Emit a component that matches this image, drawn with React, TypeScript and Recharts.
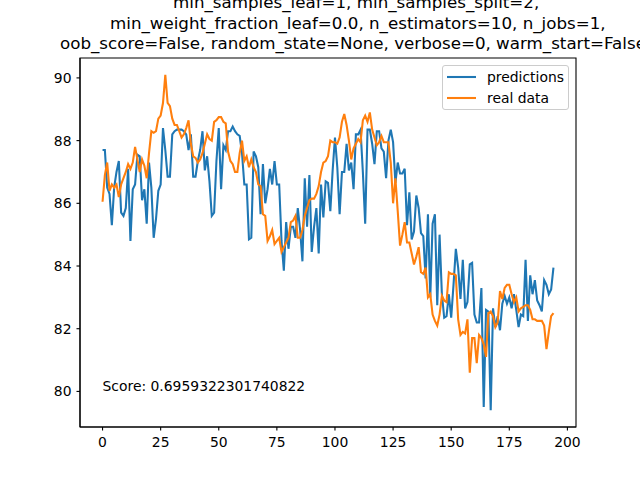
import { Legend, Line, LineChart, ReferenceArea, ReferenceDot, XAxis, YAxis } from "recharts";

document.body.style.margin = "0";

const BLUE = "#1f77b4";
const ORANGE = "#ff7f0e";
const FONT = "'DejaVu Sans', sans-serif";
const FONT_SIZE = 13.9; // 10pt at 100 dpi
const TITLE_SIZE = 16.7; // 12pt at 100 dpi

// Values, one per sample index 0..194.
const predictions = [
  87.7, 87.7, 86.5, 86.3, 85.3, 86.5, 87.0, 87.35, 85.7, 85.6,
  85.85, 87.1, 84.8, 86.45, 86.6, 87.55, 87.5, 86.1, 86.45, 85.35,
  87.3, 86.5, 84.9, 85.5, 86.4, 86.6, 88.4, 87.7, 86.85, 86.85,
  88.2, 88.3, 88.35, 88.35, 88.35, 88.3, 88.2, 87.7, 88.2, 86.85,
  86.85, 87.35, 87.7, 88.3, 87.05, 87.5, 86.7, 85.6, 85.7, 87.35,
  88.4, 86.45, 87.85, 87.7, 88.3, 88.3, 88.45, 88.3, 88.2, 88.15,
  87.6, 86.6, 86.6, 84.85, 84.9, 87.65, 87.5, 87.15, 85.65, 87.25,
  86.0, 86.45, 87.1, 86.6, 87.35, 86.6, 86.6, 84.8, 83.85, 85.4,
  84.55, 85.25, 85.25, 84.9, 85.85, 85.15, 84.15, 86.8, 85.25, 86.9,
  84.45, 85.25, 85.85, 84.4, 86.6, 85.55, 86.7, 86.65, 85.75, 87.05,
  88.1, 87.15, 85.65, 87.0, 87.0, 87.9, 87.05, 87.3, 86.45, 88.2,
  88.2, 88.35, 87.0, 85.35, 88.35, 88.35, 87.9, 87.25, 88.3, 88.3,
  87.75, 87.65, 86.8, 88.0, 88.35, 87.95, 86.65, 87.3, 86.95, 86.95,
  87.1, 85.3, 86.35, 84.85, 85.1, 86.25, 85.85, 85.05, 84.95, 83.6,
  85.65, 83.0, 85.35, 85.65, 82.75, 85.0, 83.1, 82.35, 82.4, 83.1,
  82.35, 83.4, 84.55, 83.95, 82.95, 84.2, 82.65, 82.85, 84.05, 84.1,
  82.45, 82.2, 82.2, 83.3, 79.5, 82.6, 82.55, 79.4, 82.65, 82.05,
  82.4, 81.95, 82.8, 83.05, 82.8, 83.0, 82.65, 83.1, 82.6, 82.05,
  82.45, 82.4, 84.2, 82.25, 83.7, 83.1, 83.55, 82.9, 82.75, 82.55,
  83.55, 83.4, 83.1, 83.25, 83.95,
];

const realData = [
  86.05, 86.9, 87.3, 86.4, 86.6, 86.5, 86.6, 86.2, 86.6, 86.8,
  87.0, 87.25, 87.1, 87.3, 87.8, 87.4, 87.0, 87.4, 87.2, 86.8,
  87.6, 88.3, 88.25, 88.3, 88.7, 88.8, 89.2, 90.1, 89.2, 89.1,
  88.7, 88.5, 88.5, 88.3, 88.1, 88.2, 88.4, 88.65, 87.9, 87.5,
  87.45, 87.3, 87.4, 87.6, 87.9, 88.2, 88.05, 88.0, 88.6, 88.65,
  88.75, 88.75, 88.6, 88.55, 87.65, 87.35, 87.25, 87.0, 87.0, 87.6,
  88.0, 87.35, 87.5, 87.15, 87.4, 87.15, 87.0, 86.6, 86.55, 85.65,
  85.6, 84.8, 84.95, 85.15, 84.7, 84.8, 84.9, 84.45, 84.6, 84.75,
  84.9, 85.4, 85.45, 85.6, 84.9, 84.9, 85.15, 85.6, 85.85, 86.1,
  86.15, 86.15, 86.3, 86.55, 87.0, 87.3, 87.35, 87.5, 88.0, 87.95,
  87.95, 87.9, 88.1, 88.6, 88.85, 88.5, 88.0, 87.4, 87.75, 87.9,
  88.05, 87.95, 88.65, 88.8, 88.6, 88.9, 88.35, 88.1, 87.85, 87.95,
  88.15, 87.95, 87.95, 87.95, 87.3, 86.0, 86.8, 85.75, 84.65, 85.0,
  85.4, 84.75, 84.75, 84.4, 84.05, 84.3, 84.6, 83.8, 83.75, 83.95,
  83.0, 83.1, 82.45, 82.25, 82.1, 82.45, 83.05, 82.9, 82.85, 83.8,
  83.75, 83.75, 83.7, 82.3, 81.8, 81.9, 81.85, 82.3, 80.6, 81.7,
  81.7, 80.9, 81.8, 81.7, 81.5, 81.1, 82.5, 82.55, 82.4, 82.05,
  82.2, 83.2, 82.95, 83.3, 83.4, 83.4, 83.1, 82.85, 83.0, 82.55,
  82.65, 82.7, 82.75, 82.75, 82.6, 82.3, 82.3, 82.25, 82.25, 82.25,
  82.1, 81.35, 81.9, 82.4, 82.5,
];

const xTicks = [0, 25, 50, 75, 100, 125, 150, 175, 200];
const yTicks = [80, 82, 84, 86, 88, 90];

// Only the tail of the model repr fits on the figure; the rest is off-canvas.
const titleLines = [
  "min_samples_leaf=1, min_samples_split=2,",
  "min_weight_fraction_leaf=0.0, n_estimators=10, n_jobs=1,",
  "oob_score=False, random_state=None, verbose=0, warm_start=False)",
];

const scoreText = "Score: 0.6959322301740822";

interface Row {
  i: number;
  predictions: number;
  real: number;
}

const rows: Row[] = predictions.map((value, i) => ({
  i,
  predictions: value,
  real: realData[i],
}));

/** matplotlib-style autoscale: data range plus 5% on each side. */
function padded(values: number[]): [number, number] {
  const min = Math.min(...values);
  const max = Math.max(...values);
  const pad = (max - min) * 0.05;
  return [min - pad, max + pad];
}

const X_DOMAIN = padded([0, rows.length - 1]);
const Y_DOMAIN = padded([...predictions, ...realData]);

const TICK = { fontSize: FONT_SIZE, fill: "#000", fontFamily: FONT };
const SPINE = { stroke: "#000", strokeWidth: 1.1 };

// Title line left edges / baselines as they sit in the reference.
const TITLE_X = [173, 110, 60];
const TITLE_BASELINE = [7.5, 28.5, 49.3];

interface LegendEntry {
  value?: string;
  color?: string;
}

function ChartLegend({ payload }: { payload?: LegendEntry[] }) {
  return (
    <div
      style={{
        width: 127,
        height: 45,
        boxSizing: "border-box",
        border: "1px solid #cccccc",
        borderRadius: 3,
        background: "rgba(255,255,255,0.8)",
        fontFamily: FONT,
        fontSize: FONT_SIZE,
        position: "relative",
      }}
    >
      {(payload ?? []).map((entry, k) => (
        <div
          key={entry.value}
          style={{
            position: "absolute",
            left: 4,
            top: 2 + k * 21,
            height: 18,
            display: "flex",
            alignItems: "center",
          }}
        >
          <svg width={29} height={4}>
            <line x1={0} x2={29} y1={2} y2={2} stroke={entry.color} strokeWidth={2.08} />
          </svg>
          <span style={{ marginLeft: 11, color: "#000" }}>{entry.value}</span>
        </div>
      ))}
    </div>
  );
}

export default function App() {
  return (
    <div style={{ position: "relative", width: 640, height: 480, background: "#fff" }}>
      <LineChart
        width={640}
        height={480}
        data={rows}
        margin={{ top: 58, right: 64, bottom: 23, left: 20 }}
      >
        <XAxis
          dataKey="i"
          type="number"
          domain={X_DOMAIN}
          ticks={xTicks}
          allowDataOverflow
          tick={TICK}
          tickSize={3.5}
          tickMargin={7}
          tickLine={SPINE}
          axisLine={SPINE}
          height={30}
        />
        <YAxis
          type="number"
          domain={Y_DOMAIN}
          ticks={yTicks}
          allowDataOverflow
          tick={TICK}
          tickSize={3.5}
          tickMargin={5}
          tickLine={SPINE}
          axisLine={SPINE}
          width={60}
        />
        <Line
          dataKey="predictions"
          name="predictions"
          stroke={BLUE}
          strokeWidth={2.08}
          dot={false}
          activeDot={false}
          isAnimationActive={false}
        />
        <Line
          dataKey="real"
          name="real data"
          stroke={ORANGE}
          strokeWidth={2.08}
          dot={false}
          activeDot={false}
          isAnimationActive={false}
        />
        {/* axes frame: the four spines */}
        <ReferenceArea
          x1={X_DOMAIN[0]}
          x2={X_DOMAIN[1]}
          y1={Y_DOMAIN[0]}
          y2={Y_DOMAIN[1]}
          fill="none"
          fillOpacity={0}
          stroke="#000"
          strokeWidth={1.1}
          ifOverflow="visible"
        />
        <ReferenceDot
          x={0}
          y={80}
          r={0}
          shape={(p: { cx?: number; cy?: number }) => (
            <text
              x={p.cx}
              y={p.cy}
              fontFamily={FONT}
              fontSize={FONT_SIZE}
              fill="#000"
            >
              {scoreText}
            </text>
          )}
        />
        <Legend
          layout="horizontal"
          align="center"
          verticalAlign="middle"
          content={<ChartLegend />}
          wrapperStyle={{ position: "absolute", left: 442, top: 65, width: 127, height: 45 }}
        />
      </LineChart>
      <svg
        width={640}
        height={60}
        style={{ position: "absolute", left: 0, top: 0, pointerEvents: "none" }}
      >
        {titleLines.map((line, k) => (
          <text
            key={line}
            x={TITLE_X[k]}
            y={TITLE_BASELINE[k]}
            fontFamily={FONT}
            fontSize={TITLE_SIZE}
            fill="#000"
          >
            {line}
          </text>
        ))}
      </svg>
    </div>
  );
}
